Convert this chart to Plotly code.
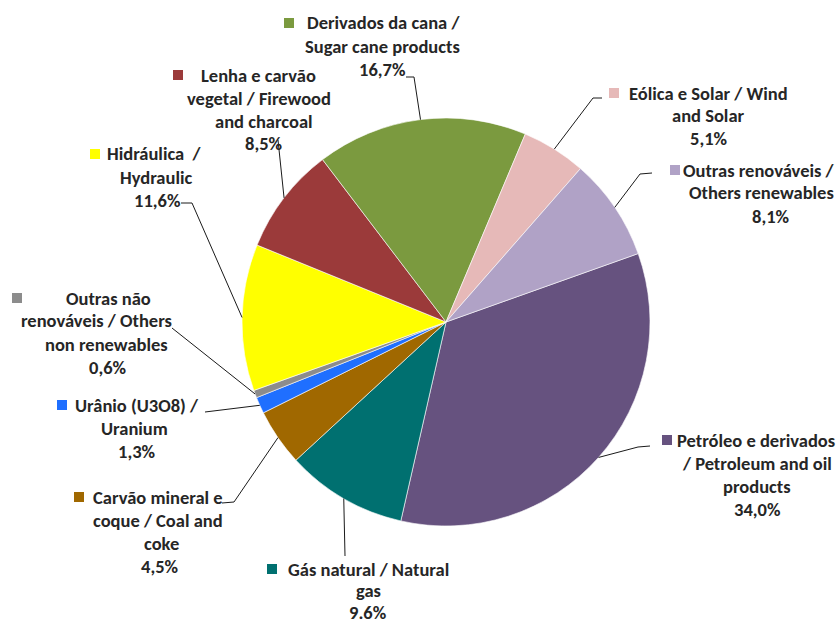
import math
import plotly.graph_objects as go

W, H = 838, 625

# ---- data ----
categories = [
    "Petróleo e derivados / Petroleum and oil products",
    "Gás natural / Natural gas",
    "Carvão mineral e coque / Coal and coke",
    "Urânio (U3O8) / Uranium",
    "Outras não renováveis / Others non renewables",
    "Hidráulica / Hydraulic",
    "Lenha e carvão vegetal / Firewood and charcoal",
    "Derivados da cana / Sugar cane products",
    "Eólica e Solar / Wind and Solar",
    "Outras renováveis / Others renewables",
]
values = [34.0, 9.6, 4.5, 1.3, 0.6, 11.6, 8.5, 16.7, 5.1, 8.1]
pct_labels = ["34,0%", "9.6%", "4,5%", "1,3%", "0,6%", "11,6%", "8,5%", "16,7%", "5,1%", "8,1%"]
label_lines = [
    ["Petróleo e derivados", "/ Petroleum and oil", "products"],
    ["Gás natural / Natural", "gas"],
    ["Carvão mineral e", "coque / Coal and", "coke"],
    ["Urânio (U3O8) /", "Uranium"],
    ["Outras não", "renováveis / Others", "non renewables"],
    ["Hidráulica  /", "Hydraulic"],
    ["Lenha e carvão", "vegetal / Firewood", "and charcoal"],
    ["Derivados da cana /", "Sugar cane products"],
    ["Eólica e Solar / Wind", "and Solar"],
    ["Outras renováveis /", "Others renewables"],
]

# ---- styles / layout (window pixel positions) ----
colors = ["#66527F", "#007070", "#A06800", "#1F6FFF", "#8C8C8C",
          "#FFFF00", "#9B3A3A", "#7B9A3F", "#E6B9B8", "#B0A2C6"]
line_x = [
    [(836, "right"), (757, "center"), (757, "center"), (757, "center")],
    [(368, "center")] * 3,
    [(158, "center"), (158, "center"), (161, "center"), (160, "center")],
    [(137, "center"), (134, "center"), (137, "center")],
    [(108, "center"), (96, "center"), (107, "center"), (108, "center")],
    [(154, "center"), (156, "center"), (157, "center")],
    [(258, "center"), (259, "center"), (264, "center"), (264, "center")],
    [(383, "center"), (382, "center"), (382, "center")],
    [(708, "center"), (708, "center"), (709, "center")],
    [(836, "right"), (835, "right"), (771, "center")],
]
first_y = [440, 569, 497, 405, 298, 154, 75, 23, 93, 170]
line_gap = [23, 21.5, 23, 23, 23, 23, 23, 23, 23, 23]
square_c = [(667, 440), (272, 569), (79, 497), (62, 405), (17, 298),
            (95, 154), (178, 75), (289, 23), (614, 93), (675, 170)]
elbows = [
    [(650, 446), (638, 447)],
    [(345, 556)],
    [(222, 503), (234, 502)],
    [(205, 412)],
    [(172, 328)],
    [(181, 203), (192, 203)],
    [(278, 140)],
    [(406, 77), (414, 77)],
    [(602, 98), (593, 98)],
    [(652, 173), (640, 174)],
]
cx, cy, R = 446, 322, 204
rotation = 70.4
FS = 18.5
SQ = 10
FONT = "Carlito, Calibri, Lato, sans-serif"
TXT = "#262626"


def px(x):
    return x / W


def py(y):
    return 1 - y / H


fig = go.Figure(go.Pie(
    labels=categories, values=values, sort=False, direction="clockwise",
    rotation=rotation, textinfo="none", showlegend=False,
    marker=dict(colors=colors, line=dict(color="white", width=0.6)),
    domain=dict(x=[px(cx - R), px(cx + R)], y=[py(cy + R), py(cy - R)]),
))

annotations = []
shapes = []
total = sum(values)
cum = 0.0
for i, v in enumerate(values):
    mid = rotation + 360.0 * (cum + v / 2) / total
    cum += v
    a = math.radians(mid)
    ex, ey = cx + R * math.sin(a), cy - R * math.cos(a)

    pts = elbows[i] + [(ex, ey)]
    for (x0, y0), (x1, y1) in zip(pts[:-1], pts[1:]):
        shapes.append(dict(type="line", xref="paper", yref="paper",
                           x0=px(x0), y0=py(y0), x1=px(x1), y1=py(y1),
                           line=dict(color="#1a1a1a", width=1)))

    sx, sy = square_c[i]
    shapes.append(dict(type="rect", xref="paper", yref="paper",
                       x0=px(sx - SQ / 2), x1=px(sx + SQ / 2),
                       y0=py(sy + SQ / 2), y1=py(sy - SQ / 2),
                       fillcolor=colors[i], line=dict(width=0)))

    lines = label_lines[i] + [pct_labels[i]]
    for j, s in enumerate(lines):
        lx, anc = line_x[i][j]
        annotations.append(dict(
            x=px(lx), y=py(first_y[i] + j * line_gap[i]), xref="paper", yref="paper",
            text="<b>" + s + "</b>", showarrow=False, xanchor=anc,
            yanchor="middle", font=dict(family=FONT, size=FS, color=TXT),
            borderpad=0,
        ))

fig.update_layout(
    width=W, height=H, margin=dict(l=0, r=0, t=0, b=0),
    paper_bgcolor="white", plot_bgcolor="white",
    annotations=annotations, shapes=shapes,
)

fig.write_html(
    "out.html",
    config={"displayModeBar": False},
    post_script="document.body.style.margin='0';document.body.style.overflow='hidden';",
)
